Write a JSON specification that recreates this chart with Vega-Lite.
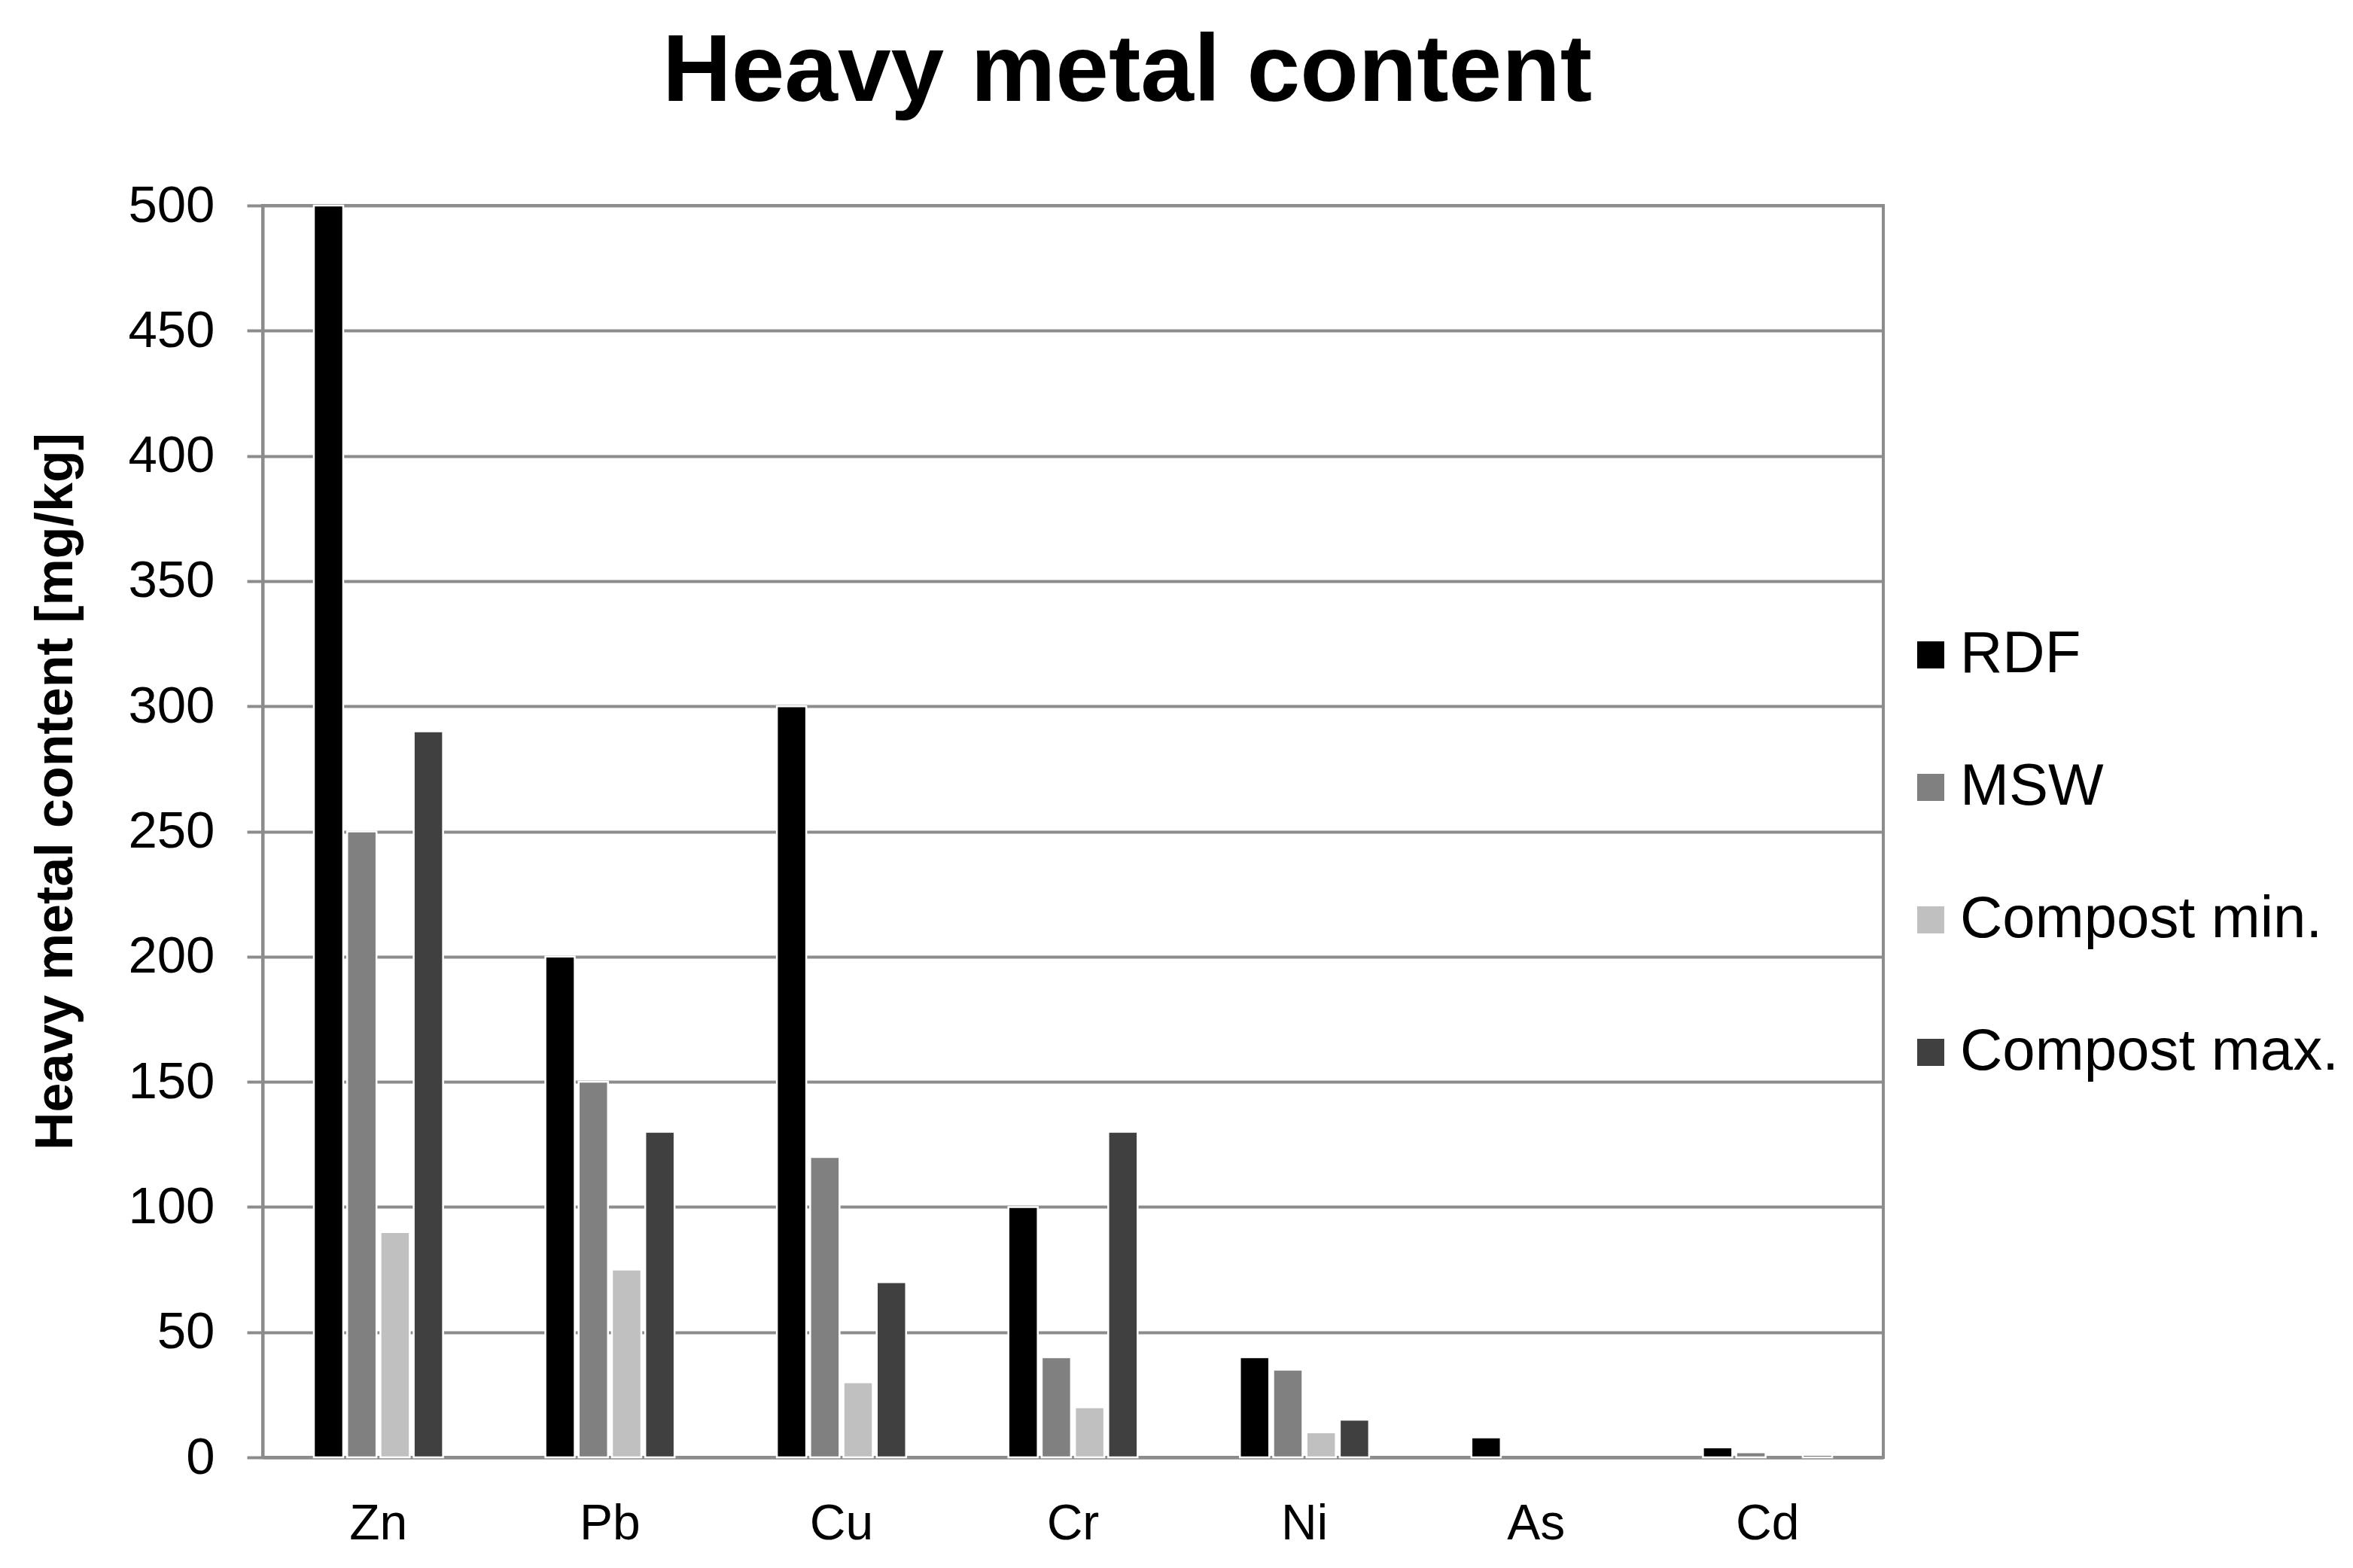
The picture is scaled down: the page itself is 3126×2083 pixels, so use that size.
{
  "$schema": "https://vega.github.io/schema/vega-lite/v6.json",
  "width": 2153,
  "height": 1663,
  "autosize": {"type": "none"},
  "padding": {"left": 349, "top": 273, "right": 624, "bottom": 147},
  "background": "white",
  "title": {
    "text": "Heavy metal content",
    "font": "Liberation Sans",
    "fontSize": 127,
    "fontWeight": "bold",
    "color": "black",
    "anchor": "middle",
    "dx": 72,
    "offset": 78
  },
  "data": {
    "values": [
      {"metal": "Zn", "series": "RDF", "value": 500},
      {"metal": "Zn", "series": "MSW", "value": 250},
      {"metal": "Zn", "series": "Compost min.", "value": 90},
      {"metal": "Zn", "series": "Compost max.", "value": 290},
      {"metal": "Pb", "series": "RDF", "value": 200},
      {"metal": "Pb", "series": "MSW", "value": 150},
      {"metal": "Pb", "series": "Compost min.", "value": 75},
      {"metal": "Pb", "series": "Compost max.", "value": 130},
      {"metal": "Cu", "series": "RDF", "value": 300},
      {"metal": "Cu", "series": "MSW", "value": 120},
      {"metal": "Cu", "series": "Compost min.", "value": 30},
      {"metal": "Cu", "series": "Compost max.", "value": 70},
      {"metal": "Cr", "series": "RDF", "value": 100},
      {"metal": "Cr", "series": "MSW", "value": 40},
      {"metal": "Cr", "series": "Compost min.", "value": 20},
      {"metal": "Cr", "series": "Compost max.", "value": 130},
      {"metal": "Ni", "series": "RDF", "value": 40},
      {"metal": "Ni", "series": "MSW", "value": 35},
      {"metal": "Ni", "series": "Compost min.", "value": 10},
      {"metal": "Ni", "series": "Compost max.", "value": 15},
      {"metal": "As", "series": "RDF", "value": 8},
      {"metal": "Cd", "series": "RDF", "value": 4},
      {"metal": "Cd", "series": "MSW", "value": 2},
      {"metal": "Cd", "series": "Compost max.", "value": 1}
    ]
  },
  "mark": {"type": "bar", "stroke": "white", "strokeWidth": 2.5},
  "encoding": {
    "x": {
      "field": "metal",
      "type": "nominal",
      "sort": ["Zn", "Pb", "Cu", "Cr", "Ni", "As", "Cd"],
      "scale": {"paddingInner": 0.442, "paddingOuter": 0.221},
      "axis": {
        "title": null,
        "labelAngle": 0,
        "ticks": false,
        "labelPadding": 56,
        "labelFont": "Liberation Sans",
        "labelFontSize": 66,
        "labelColor": "black",
        "domainColor": "#8c8c8c",
        "domainWidth": 4
      }
    },
    "xOffset": {
      "field": "series",
      "type": "nominal",
      "sort": ["RDF", "MSW", "Compost min.", "Compost max."],
      "scale": {"paddingInner": 0.118, "paddingOuter": 0}
    },
    "y": {
      "field": "value",
      "type": "quantitative",
      "scale": {"domain": [0, 500], "nice": false},
      "axis": {
        "values": [0, 50, 100, 150, 200, 250, 300, 350, 400, 450, 500],
        "title": "Heavy metal content [mg/kg]",
        "titleFont": "Liberation Sans",
        "titleFontSize": 70,
        "titleFontWeight": "bold",
        "titleColor": "black",
        "titleAngle": -90,
        "titleX": -254,
        "titleY": 778,
        "titleAlign": "center",
        "titleBaseline": "alphabetic",
        "labelFont": "Liberation Sans",
        "labelFontSize": 69,
        "labelColor": "black",
        "labelPadding": 43,
        "tickSize": 21,
        "tickColor": "#8c8c8c",
        "tickWidth": 4,
        "domainColor": "#8c8c8c",
        "domainWidth": 4,
        "gridColor": "#8c8c8c",
        "gridWidth": 4
      }
    },
    "color": {
      "field": "series",
      "type": "nominal",
      "scale": {
        "domain": ["RDF", "MSW", "Compost min.", "Compost max."],
        "range": ["#000000", "#808080", "#c0c0c0", "#404040"]
      },
      "legend": {
        "title": null,
        "orient": "none",
        "legendX": 2177,
        "legendY": 558,
        "padding": 0,
        "symbolType": "square",
        "symbolSize": 1296,
        "symbolStrokeWidth": 0,
        "symbolStrokeColor": "transparent",
        "labelFont": "Liberation Sans",
        "labelFontSize": 78,
        "labelColor": "black",
        "labelLimit": 800,
        "labelOffset": 0,
        "rowPadding": 98
      }
    }
  },
  "config": {
    "view": {"stroke": "#8c8c8c", "strokeWidth": 4}
  }
}
